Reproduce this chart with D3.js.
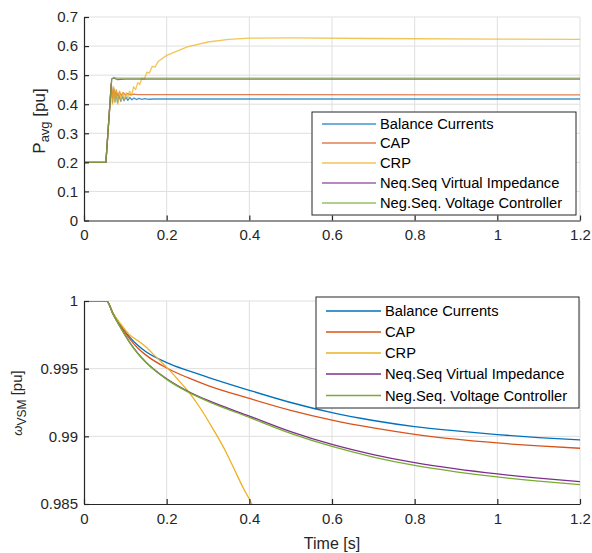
<!DOCTYPE html>
<html>
<head>
<meta charset="utf-8">
<script src="https://cdn.jsdelivr.net/npm/d3@7"></script>
<style>
  html, body { margin: 0; padding: 0; background: #fff; }
  svg { display: block; font-family: "Liberation Sans", Arial, Helvetica, sans-serif; }
</style>
</head>
<body>
<svg id="chart" width="592" height="553"></svg>
<script>
// ---------------- DATA ----------------
const seriesNames = ["Balance Currents", "CAP", "CRP", "Neq.Seq Virtual Impedance", "Neg.Seq. Voltage Controller"];
const seriesColors = ["#0072BD", "#D95319", "#EDB120", "#7E2F8E", "#77AC30"];

const xTicks = [0, 0.2, 0.4, 0.6, 0.8, 1, 1.2];
const pTicks = [0, 0.1, 0.2, 0.3, 0.4, 0.5, 0.6, 0.7];
const wTicks = [0.985, 0.99, 0.995, 1];

// Top panel: P_avg [pu]
const pBalanceT = [0,0.053,0.066,0.069,0.072,0.075,0.078,0.081,0.085,0.089,0.093,0.097,0.101,0.106,0.111,0.116,0.121,0.127,0.133,0.14,0.148,0.156,0.17,1.2];
const pBalanceV = [0.2,0.2,0.47,0.405,0.45,0.41,0.44,0.405,0.43,0.41,0.428,0.412,0.425,0.413,0.423,0.415,0.421,0.416,0.42,0.417,0.419,0.417,0.418,0.418];
const pCapT = [0,0.053,0.066,0.069,0.072,0.075,0.078,0.082,0.086,0.09,0.095,0.1,0.106,0.112,0.12,0.13,0.15,1.2];
const pCapV = [0.2,0.2,0.47,0.42,0.455,0.425,0.448,0.428,0.442,0.43,0.44,0.431,0.437,0.432,0.435,0.433,0.433,0.432];
const pCrpT = [0,0.053,0.066,0.069,0.072,0.075,0.078,0.082,0.086,0.09,0.094,0.098,0.102,0.106,0.11,0.115,0.12,0.125,0.13,0.135,0.14,0.146,0.152,0.158,0.165,0.172,0.18,0.2,0.25,0.3,0.35,0.4,0.5,0.7,1.0,1.2];
const pCrpV = [0.2,0.2,0.47,0.40,0.46,0.405,0.45,0.40,0.445,0.41,0.44,0.415,0.44,0.42,0.445,0.43,0.46,0.45,0.475,0.468,0.49,0.486,0.51,0.507,0.53,0.528,0.548,0.568,0.597,0.614,0.623,0.627,0.628,0.626,0.624,0.623];
const pNvirT = [0,0.053,0.067,0.072,0.08,0.1,1.2];
const pNvirV = [0.2,0.2,0.487,0.49,0.485,0.486,0.486];
const pNvcT = [0,0.053,0.067,0.072,0.08,1.2];
const pNvcV = [0.2,0.2,0.487,0.492,0.49,0.49];

// Bottom panel: omega_VSM [pu]
const wT = [0,0.055,0.07,0.09,0.11,0.13,0.15,0.2,0.25,0.3,0.4,0.5,0.6,0.7,0.8,0.9,1.0,1.1,1.2];
const wBalanceV = [1,1,0.99910,0.99815,0.99735,0.99673,0.99625,0.99545,0.99487,0.99436,0.99340,0.99250,0.99175,0.99117,0.99072,0.99040,0.99013,0.98991,0.98973];
const wCapV = [1,1,0.99908,0.99810,0.99722,0.99653,0.99600,0.99505,0.99435,0.99375,0.99280,0.99192,0.99120,0.99062,0.99015,0.98979,0.98951,0.98929,0.98912];
const wNvirV = [1,1,0.99905,0.99796,0.99697,0.99615,0.99548,0.99425,0.99335,0.99265,0.99150,0.99035,0.98940,0.98865,0.98805,0.98759,0.98722,0.98691,0.98665];
const wNvcV = [1,1,0.99905,0.99795,0.99695,0.99612,0.99545,0.99421,0.99330,0.99258,0.99140,0.99022,0.98925,0.98847,0.98785,0.98738,0.98700,0.98669,0.98643];
const wCrpT = [0,0.055,0.07,0.09,0.11,0.13,0.15,0.17,0.19,0.21,0.23,0.256,0.28,0.313,0.341,0.363,0.385,0.406,0.42];
const wCrpV = [1,1,0.99910,0.99825,0.99750,0.99708,0.99660,0.99600,0.99540,0.99478,0.99410,0.99318,0.99215,0.99050,0.98899,0.98760,0.98620,0.98500,0.98400];

// ---------------- DRAW ----------------
const svg = d3.select("#chart");
const textColor = "#262626";
const gridColor = "#dfdfdf";
const zip = (t, v) => t.map((d, i) => [d, v[i]]);
const fmt = d => String(+d.toFixed(3));

const x = d3.scaleLinear().domain([0, 1.2]).range([84, 580]);

function panel(cfg) {
  const g = svg.append("g");
  const y = d3.scaleLinear().domain(cfg.yDomain).range(cfg.yRange);
  const id = "clip" + cfg.name;
  svg.append("clipPath").attr("id", id).append("rect")
    .attr("x", x.range()[0]).attr("y", cfg.yRange[1])
    .attr("width", x.range()[1] - x.range()[0]).attr("height", cfg.yRange[0] - cfg.yRange[1]);

  // grid
  g.append("g").selectAll("line").data(xTicks.slice(1)).join("line")
    .attr("x1", d => x(d)).attr("x2", d => x(d))
    .attr("y1", cfg.yRange[0]).attr("y2", cfg.yRange[1])
    .attr("stroke", gridColor).attr("stroke-width", 1);
  g.append("g").selectAll("line").data(cfg.yTicks.slice(1)).join("line")
    .attr("x1", x.range()[0]).attr("x2", x.range()[1])
    .attr("y1", d => y(d)).attr("y2", d => y(d))
    .attr("stroke", gridColor).attr("stroke-width", 1);

  // lines
  const line = d3.line().curve(cfg.curve).x(d => x(d[0])).y(d => y(d[1]));
  const lg = g.append("g").attr("clip-path", `url(#${id})`);
  cfg.series.forEach((s, i) => {
    lg.append("path").datum(s).attr("d", line)
      .attr("fill", "none").attr("stroke", seriesColors[i])
      .attr("stroke-width", cfg.lw).attr("stroke-opacity", cfg.op)
      .attr("stroke-linejoin", "round");
  });

  // axes
  const ax = g.append("g").attr("transform", `translate(0,${cfg.yRange[0]})`)
    .call(d3.axisBottom(x).tickValues(xTicks).tickFormat(fmt).tickSize(-5).tickSizeOuter(0).tickPadding(9));
  const ay = g.append("g").attr("transform", `translate(${x.range()[0]},0)`)
    .call(d3.axisLeft(y).tickValues(cfg.yTicks).tickFormat(fmt).tickSize(-5).tickSizeOuter(0).tickPadding(6));
  [ax, ay].forEach(a => {
    a.select(".domain").attr("stroke", textColor).attr("stroke-width", 1.2);
    a.selectAll(".tick line").attr("stroke", textColor).attr("stroke-width", 1.2);
    a.selectAll(".tick text").attr("fill", textColor).attr("font-size", 15)
      .attr("font-family", "'Liberation Sans', Arial, sans-serif");
  });

  // legend
  const L = cfg.legend;
  const lgd = g.append("g");
  lgd.append("rect").attr("x", L.x0).attr("y", L.y0).attr("width", L.x1 - L.x0).attr("height", L.y1 - L.y0)
    .attr("fill", "#fff").attr("stroke", textColor).attr("stroke-width", 1);
  seriesNames.forEach((n, i) => {
    const yy = L.rows[i];
    lgd.append("line").attr("x1", L.lx0).attr("x2", L.lx1).attr("y1", yy).attr("y2", yy)
      .attr("stroke", seriesColors[i]).attr("stroke-width", cfg.lw).attr("stroke-opacity", cfg.op);
    lgd.append("text").attr("x", L.tx).attr("y", yy).attr("dy", "0.35em")
      .attr("font-size", 14.7).attr("fill", "#000").text(n);
  });
  return y;
}

panel({
  name: "top", yDomain: [0, 0.7], yRange: [220.5, 17], yTicks: pTicks, lw: 1.3, op: 0.75, curve: d3.curveLinear,
  series: [zip(pBalanceT, pBalanceV), zip(pCapT, pCapV), zip(pCrpT, pCrpV), zip(pNvirT, pNvirV), zip(pNvcT, pNvcV)],
  legend: { x0: 312, x1: 576, y0: 112, y1: 215, lx0: 322, lx1: 376, tx: 380, rows: [124, 143, 163, 183, 203] }
});
panel({
  name: "bot", yDomain: [0.985, 1], yRange: [504, 301], yTicks: wTicks, lw: 1.3, op: 1, curve: d3.curveMonotoneX,
  series: [zip(wT, wBalanceV), zip(wT, wCapV), zip(wCrpT, wCrpV), zip(wT, wNvirV), zip(wT, wNvcV)],
  legend: { x0: 316, x1: 579, y0: 297, y1: 408, lx0: 326, lx1: 381, tx: 385, rows: [311, 332, 353, 374, 395.5] }
});

// axis labels
const pl = svg.append("text").attr("transform", "translate(45,121) rotate(-90)")
  .attr("text-anchor", "middle").attr("font-size", 17).attr("fill", textColor);
pl.append("tspan").text("P");
pl.append("tspan").attr("font-size", 13).attr("dy", 4).text("avg");
pl.append("tspan").attr("dy", -4).text(" [pu]");

const wl = svg.append("text").attr("transform", "translate(22,403) rotate(-90)")
  .attr("text-anchor", "middle").attr("font-size", 15).attr("fill", textColor);
wl.append("tspan").attr("font-size", 13).attr("font-style", "italic").text("ω");
wl.append("tspan").attr("font-size", 12).attr("dy", 4).text("VSM");
wl.append("tspan").attr("dy", -4).text(" [pu]");

svg.append("text").attr("x", 332).attr("y", 549).attr("text-anchor", "middle")
  .attr("font-size", 16).attr("fill", textColor).text("Time [s]");
</script>
</body>
</html>
